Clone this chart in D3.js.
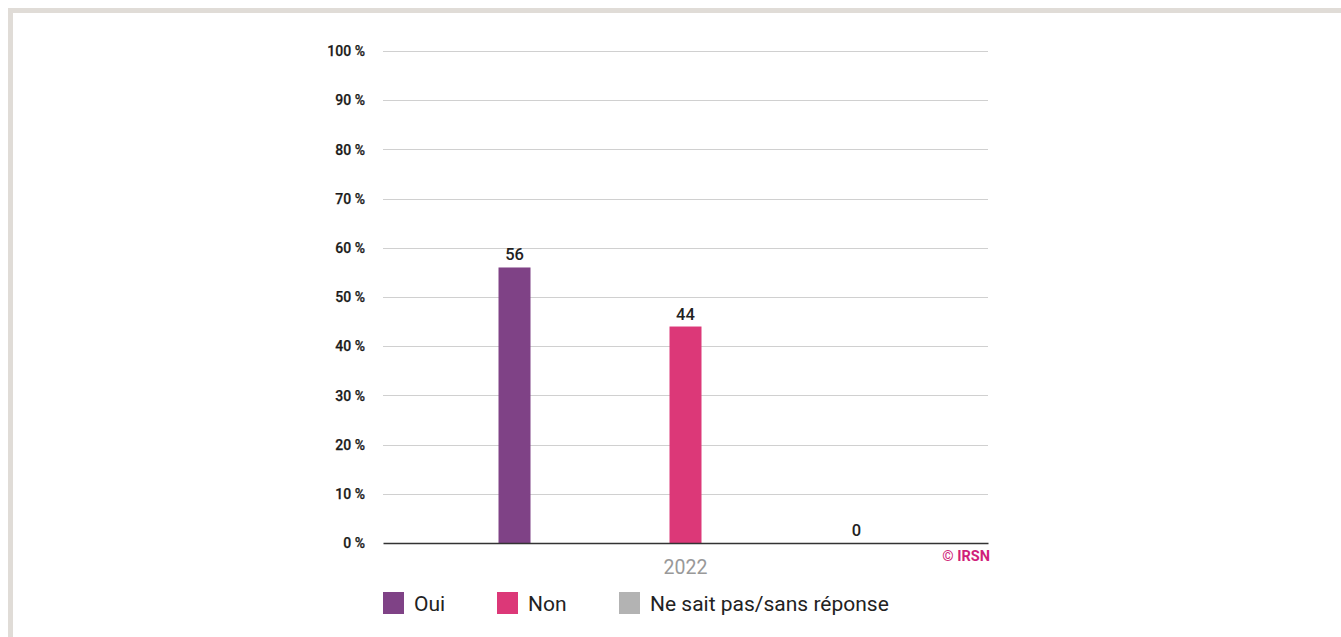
<!DOCTYPE html>
<html><head><meta charset="utf-8">
<script src="https://cdn.jsdelivr.net/npm/d3@7"></script>
<style>
html,body{margin:0;padding:0;background:#fff;overflow:hidden}
svg{display:block;font-family:Roboto,"Noto Sans",sans-serif}
</style></head>
<body>
<script>
const categories = ["2022"];
const seriesNames = ["Oui", "Non", "Ne sait pas/sans réponse"];
const seriesValues = [56, 44, 0];
const seriesColors = ["#7f4286", "#dc3878", "#b3b3b3"];
const yTicks = [0, 10, 20, 30, 40, 50, 60, 70, 80, 90, 100];

(function () {
const W = 1341, H = 637;
const svg = d3.select("body").append("svg").attr("width", W).attr("height", H);

// frame
svg.append("rect").attr("x", 8).attr("y", 8).attr("width", W).attr("height", 5).attr("fill", "#e0dcd7");
svg.append("rect").attr("x", 8).attr("y", 8).attr("width", 5).attr("height", H).attr("fill", "#e0dcd7");

const pL = 383, pR = 988, pT = 51, pB = 543;
const y = d3.scaleLinear().domain([0, 100]).range([pB, pT]);
const x0 = d3.scaleBand().domain(categories).range([pL, pR]).paddingInner(0).paddingOuter(0.0897);
const x1 = d3.scaleBand().domain(seriesNames).range([0, x0.bandwidth()]);
const barW = 32;

// grid
svg.append("g").selectAll("line").data(yTicks.filter(d => d > 0)).join("line")
  .attr("x1", pL).attr("x2", pR)
  .attr("y1", d => Math.round(y(d)) + 0.5).attr("y2", d => Math.round(y(d)) + 0.5)
  .attr("stroke", "#d0d0d0").attr("stroke-width", 1);

// y axis labels
const yAxis = d3.axisLeft(y).tickValues(yTicks).tickFormat(d => d + " %").tickSize(0).tickPadding(18);
const ya = svg.append("g").attr("transform", `translate(${pL},0)`).call(yAxis);
ya.select(".domain").remove();
ya.selectAll("text").attr("font-size", 14).attr("font-weight", 500).attr("fill", "#1a1a1a")
  .attr("font-family", "Roboto, sans-serif").attr("dy", "0.34em").attr("stroke", "#1a1a1a").attr("stroke-width", 0.25);

// bars
const g = svg.append("g");
categories.forEach(cat => {
  seriesNames.forEach((s, i) => {
    const cx = x0(cat) + x1(s) + x1.bandwidth() / 2;
    const v = seriesValues[i];
    g.append("rect").attr("x", cx - barW / 2).attr("y", y(v)).attr("width", barW)
      .attr("height", pB - y(v)).attr("fill", seriesColors[i]);
    g.append("text").attr("x", cx).attr("y", y(v) - 7).attr("text-anchor", "middle")
      .attr("font-size", 16.5).attr("font-weight", 500).attr("fill", "#222").text(v);
  });
});

// x axis
const xAxis = d3.axisBottom(x0).tickSize(0).tickPadding(0);
const xa = svg.append("g").attr("transform", `translate(0,${pB})`).call(xAxis);
xa.select(".domain").attr("stroke", "#333").attr("stroke-width", 1.4);
xa.selectAll("text").attr("font-size", 19.5).attr("fill", "#999").attr("font-family", "Roboto, sans-serif")
  .attr("dy", null).attr("y", 31);

// copyright
svg.append("text").attr("x", 990).attr("y", 561).attr("text-anchor", "end")
  .attr("font-size", 14.5).attr("font-weight", "bold").attr("fill", "#d01f7a").text("© IRSN");

// legend
const legX = [383, 497, 619];
const leg = svg.append("g");
seriesNames.forEach((s, i) => {
  leg.append("rect").attr("x", legX[i]).attr("y", 592).attr("width", 21).attr("height", 22).attr("fill", seriesColors[i]);
  leg.append("text").attr("x", legX[i] + 31).attr("y", 611).attr("font-size", 21).attr("fill", "#222").text(s);
});
})();
</script>
</body></html>
